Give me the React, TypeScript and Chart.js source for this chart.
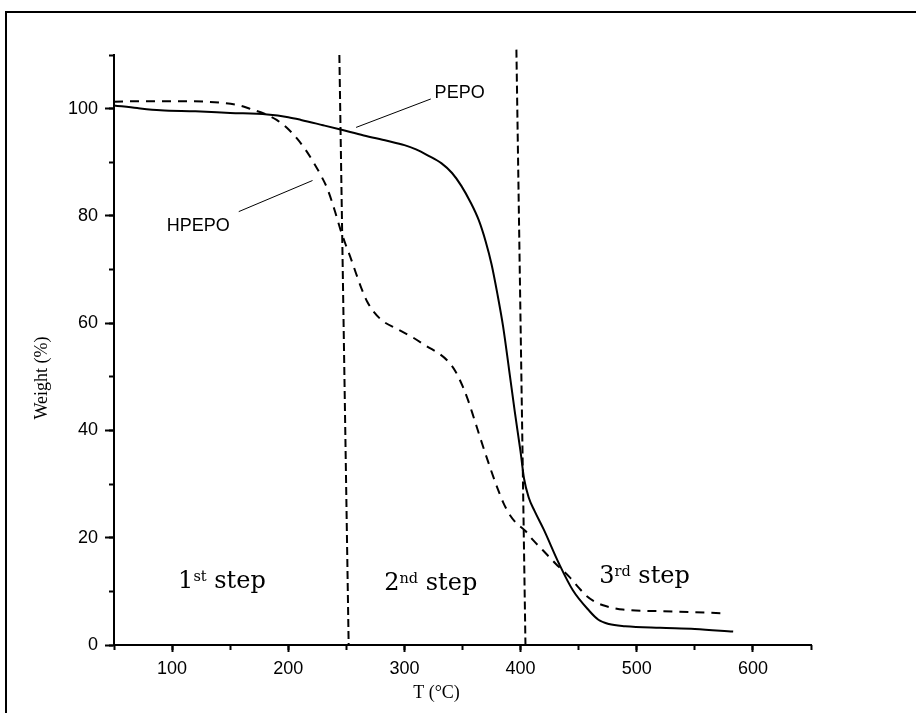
import React, { useEffect, useRef } from "react";
import { Chart, registerables } from "chart.js";

Chart.register(...registerables);

// Thermogravimetric curves: temperature (°C) vs. remaining weight (%)
const pepoTemp = [50, 70, 90, 120, 150, 182, 200, 211, 230, 245, 265, 285, 300, 310, 320, 332, 341, 349, 357, 364, 370, 375, 380, 385, 390, 395, 400, 403, 407, 412, 420, 433, 445, 459, 467, 476, 490, 520, 550, 583];
const pepoWeight = [100.6, 100.1, 99.7, 99.5, 99.2, 98.9, 98.4, 97.9, 96.9, 96.1, 95.0, 94.0, 93.2, 92.4, 91.3, 89.8, 88.0, 85.6, 82.5, 79.2, 75.2, 71.0, 65.5, 59.3, 51.5, 43.5, 36.0, 31.0, 27.5, 25.0, 21.5, 15.2, 10.2, 6.4, 4.7, 3.9, 3.5, 3.2, 3.0, 2.5];

const hpepoTemp = [50, 80, 110, 142, 158, 168, 180, 190, 199, 208, 215, 222, 228, 234, 240, 245, 250, 254, 258, 263, 268, 274, 282, 292, 306, 320, 330, 338, 344, 350, 355, 360, 365, 370, 375, 380, 385, 390, 396, 404, 411, 419, 430, 442, 450, 456, 463, 471, 480, 488, 520, 550, 577];
const hpepoWeight = [101.3, 101.4, 101.4, 101.1, 100.6, 99.9, 99.0, 97.9, 96.4, 94.3, 92.3, 89.9, 87.6, 84.9, 81.0, 77.4, 74.3, 72.0, 69.5, 66.5, 64.0, 62.0, 60.3, 59.1, 57.5, 55.6, 54.3, 52.8, 51.0, 48.3, 45.5, 42.2, 38.8, 35.5, 32.3, 29.3, 26.6, 24.5, 22.8, 21.3, 19.5, 17.7, 15.2, 12.7, 10.7, 9.3, 8.2, 7.4, 6.9, 6.6, 6.3, 6.1, 5.9];

// Boundaries between decomposition steps (temperature, weight) from top to bottom
const stepBoundary1Temp = [244, 252];
const stepBoundary1Weight = [110, 0];
const stepBoundary2Temp = [396.4, 404.2];
const stepBoundary2Weight = [111, 0];

// Axis ticks
const xMajorTicks = [100, 200, 300, 400, 500, 600];
const xMinorTicks = [50, 100, 150, 200, 250, 300, 350, 400, 450, 500, 550, 600, 650];
const yMajorTicks = [0, 20, 40, 60, 80, 100];
const yMinorTicks = [0, 10, 20, 30, 40, 50, 60, 70, 80, 90, 100, 110];

// Curve labels with leader lines (data coordinates)
const curveLabels = ["PEPO", "HPEPO"];
const curveLabelTemp = [326, 95.4];
const curveLabelWeight = [102, 77.1];
const leaderFromTemp = [322.7, 157.4];
const leaderFromWeight = [101.8, 80.8];
const leaderToTemp = [258.4, 220.9];
const leaderToWeight = [96.5, 86.6];

// Step labels
const stepNumbers = ["1", "2", "3"];
const stepSuffixes = ["st", "nd", "rd"];
const stepLabelTemp = [105.2, 282.6, 467.7];
const stepLabelWeight = [10.6, 10.3, 11.6];

const xTitle = "T (°C)";
const yTitle = "Weight (%)";

const toPoints = (xs: number[], ys: number[]) => xs.map((x, i) => ({ x, y: ys[i] }));

const SANS = "'Liberation Sans', Arial, sans-serif";
const SERIF = "'Liberation Serif', 'Times New Roman', serif";
const STEP_SERIF = "'DejaVu Serif', serif";

const annotationPlugin = {
  id: "tgaAnnotations",
  afterDatasetsDraw(chart: any) {
    const { ctx, chartArea } = chart;
    const xs = chart.scales.x;
    const ys = chart.scales.y;
    ctx.save();
    ctx.fillStyle = "#000";
    ctx.strokeStyle = "#000";

    // leader lines
    ctx.lineWidth = 1;
    for (let i = 0; i < curveLabels.length; i++) {
      ctx.beginPath();
      ctx.moveTo(xs.getPixelForValue(leaderFromTemp[i]), ys.getPixelForValue(leaderFromWeight[i]));
      ctx.lineTo(xs.getPixelForValue(leaderToTemp[i]), ys.getPixelForValue(leaderToWeight[i]));
      ctx.stroke();
    }

    // curve names
    ctx.font = `18px ${SANS}`;
    ctx.textBaseline = "alphabetic";
    ctx.textAlign = "left";
    for (let i = 0; i < curveLabels.length; i++) {
      ctx.fillText(curveLabels[i], xs.getPixelForValue(curveLabelTemp[i]), ys.getPixelForValue(curveLabelWeight[i]));
    }

    // step labels with superscript ordinal
    for (let i = 0; i < stepNumbers.length; i++) {
      let px = xs.getPixelForValue(stepLabelTemp[i]);
      const py = ys.getPixelForValue(stepLabelWeight[i]);
      ctx.font = `24px ${STEP_SERIF}`;
      ctx.fillText(stepNumbers[i], px, py);
      px += ctx.measureText(stepNumbers[i]).width;
      ctx.font = `14.5px ${STEP_SERIF}`;
      ctx.fillText(stepSuffixes[i], px, py - 7);
      px += ctx.measureText(stepSuffixes[i]).width;
      ctx.font = `24px ${STEP_SERIF}`;
      ctx.fillText(" step", px, py);
    }

    // axis titles
    ctx.font = `18px ${SERIF}`;
    ctx.textAlign = "center";
    ctx.fillText(xTitle, (chartArea.left + chartArea.right) / 2 - 26, chartArea.bottom + 53);
    ctx.translate(chartArea.left - 67, (chartArea.top + chartArea.bottom) / 2 + 28);
    ctx.rotate(-Math.PI / 2);
    ctx.fillText(yTitle, 0, 0);
    ctx.restore();
  },
};

export default function App() {
  const canvasRef = useRef<HTMLCanvasElement | null>(null);

  useEffect(() => {
    const canvas = canvasRef.current;
    if (!canvas) return;

    const tickGrid = (len: number) => ({
      drawOnChartArea: false,
      tickLength: len,
      tickWidth: 2,
      tickColor: "#000",
    });

    const chart = new Chart(canvas, {
      type: "line",
      data: {
        datasets: [
          {
            label: "PEPO",
            data: toPoints(pepoTemp, pepoWeight),
            borderColor: "#000",
            borderWidth: 2,
            pointRadius: 0,
            fill: false,
            cubicInterpolationMode: "monotone",
          },
          {
            label: "HPEPO",
            data: toPoints(hpepoTemp, hpepoWeight),
            borderColor: "#000",
            borderWidth: 2,
            borderDash: [9, 7],
            pointRadius: 0,
            fill: false,
            cubicInterpolationMode: "monotone",
          },
          {
            label: "step boundary 1",
            data: toPoints(stepBoundary1Temp, stepBoundary1Weight),
            borderColor: "#000",
            borderWidth: 2,
            borderDash: [8, 4],
            pointRadius: 0,
            fill: false,
            tension: 0,
            clip: false,
          },
          {
            label: "step boundary 2",
            data: toPoints(stepBoundary2Temp, stepBoundary2Weight),
            borderColor: "#000",
            borderWidth: 2,
            borderDash: [8, 4],
            pointRadius: 0,
            fill: false,
            tension: 0,
            clip: false,
          },
        ],
      },
      options: {
        animation: false,
        responsive: false,
        maintainAspectRatio: false,
        layout: { padding: { left: 0, right: 105, top: 55, bottom: 0 } },
        plugins: { legend: { display: false }, tooltip: { enabled: false } },
        scales: {
          x: {
            type: "linear",
            position: "bottom",
            weight: 0,
            min: 50,
            max: 650,
            afterBuildTicks: (s: any) => {
              s.ticks = xMajorTicks.map((v) => ({ value: v }));
            },
            afterFit: (s: any) => {
              s.height = 68;
            },
            grid: tickGrid(7),
            border: { color: "#000", width: 2 },
            ticks: { color: "#000", font: { family: SANS, size: 18 }, padding: 6, maxRotation: 0 },
          },
          xMinor: {
            type: "linear",
            position: "bottom",
            weight: -1,
            min: 50,
            max: 650,
            afterBuildTicks: (s: any) => {
              s.ticks = xMinorTicks.map((v) => ({ value: v }));
            },
            afterFit: (s: any) => {
              s.height = 0;
            },
            grid: tickGrid(5),
            border: { display: false },
            ticks: { display: false },
          },
          y: {
            type: "linear",
            position: "left",
            weight: 0,
            min: 0,
            max: 110,
            afterBuildTicks: (s: any) => {
              s.ticks = yMajorTicks.map((v) => ({ value: v }));
            },
            afterFit: (s: any) => {
              s.width = 114;
            },
            grid: tickGrid(9),
            border: { color: "#000", width: 2 },
            ticks: { color: "#000", font: { family: SANS, size: 18 }, padding: 7 },
          },
          yMinor: {
            type: "linear",
            position: "left",
            weight: -1,
            min: 0,
            max: 110,
            afterBuildTicks: (s: any) => {
              s.ticks = yMinorTicks.map((v) => ({ value: v }));
            },
            afterFit: (s: any) => {
              s.width = 0;
            },
            grid: tickGrid(5),
            border: { display: false },
            ticks: { display: false },
          },
        },
      },
      plugins: [annotationPlugin],
    } as any);

    return () => chart.destroy();
  }, []);

  return (
    <div
      style={{
        position: "absolute",
        left: 0,
        top: 0,
        width: 916,
        height: 713,
        overflow: "hidden",
        background: "#fff",
      }}
    >
      <div
        style={{
          position: "absolute",
          left: 5,
          top: 11,
          width: 1000,
          height: 1000,
          border: "2px solid #000",
          boxSizing: "border-box",
        }}
      />
      <canvas
        ref={canvasRef}
        width={916}
        height={713}
        style={{ position: "absolute", left: 0, top: 0, width: 916, height: 713 }}
      />
    </div>
  );
}
